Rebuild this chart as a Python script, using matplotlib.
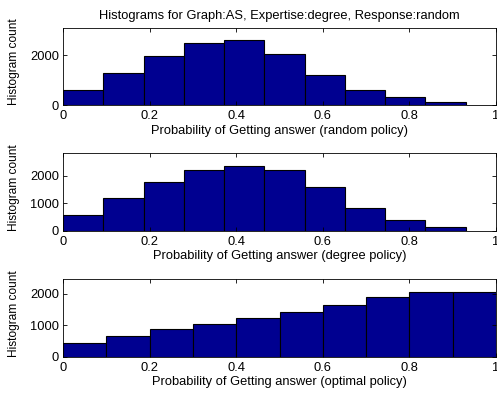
import matplotlib
matplotlib.use("Agg")
import matplotlib.pyplot as plt
import numpy as np

plt.rcParams['font.family'] = ['Liberation Sans', 'DejaVu Sans']

# Data
edges_random = np.linspace(0, 0.93, 11)
counts_random = [604, 1275, 1973, 2483, 2617, 2040, 1195, 604, 309, 107]
edges_degree = np.linspace(0, 0.93, 11)
counts_degree = [570, 1200, 1758, 2194, 2352, 2218, 1588, 824, 388, 121]
edges_optimal = np.linspace(0, 1.0, 11)
counts_optimal = [423, 656, 868, 1037, 1217, 1407, 1630, 1884, 2063, 2042]

xlabels = ["Probability of Getting answer (random policy)",
           "Probability of Getting answer (degree policy)",
           "Probability of Getting answer (optimal policy)"]
ylims = [3090, 2810, 2470]
yticks_list = [[0, 2000], [0, 1000, 2000], [0, 1000, 2000]]
xticks = [0, 0.2, 0.4, 0.6, 0.8, 1]
xticklabels = ["0", "0.2", "0.4", "0.6", "0.8", "1"]
title = "Histograms for Graph:AS, Expertise:degree, Response:random"

fig = plt.figure(figsize=(4.97, 3.95), dpi=100)
W, H = 497, 395
left, right = 63, 496
tops = [28, 153.3, 279]
bottoms = [105, 230.7, 356.7]

data = [(edges_random, counts_random), (edges_degree, counts_degree),
        (edges_optimal, counts_optimal)]
fs = 9.3
for i, (edges, counts) in enumerate(data):
    ax = fig.add_axes([left / W, 1 - bottoms[i] / H, (right - left) / W,
                       (bottoms[i] - tops[i]) / H])
    widths = np.diff(edges)
    ax.bar(edges[:-1], counts, width=widths, align='edge', color='#000090',
           edgecolor='black', linewidth=0.8)
    ax.set_xlim(0, 1)
    ax.set_ylim(0, ylims[i])
    ax.set_xticks(xticks)
    ax.set_xticklabels(xticklabels)
    ax.set_yticks(yticks_list[i])
    ax.tick_params(direction='in', top=True, right=True, labelsize=fs,
                   length=3, width=0.6)
    ax.tick_params(axis='x', pad=3.5)
    ax.tick_params(axis='y', pad=3)
    for s in ax.spines.values():
        s.set_linewidth(0.6)
    ax.set_xlabel(xlabels[i], fontsize=fs, labelpad=2)
    ax.set_ylabel("Histogram count", fontsize=8.6)
    ax.yaxis.set_label_coords(-0.099, 0.56)
    if i == 0:
        ax.set_title(title, fontsize=fs, pad=6.5)

fig.savefig("out.png", dpi=100)
